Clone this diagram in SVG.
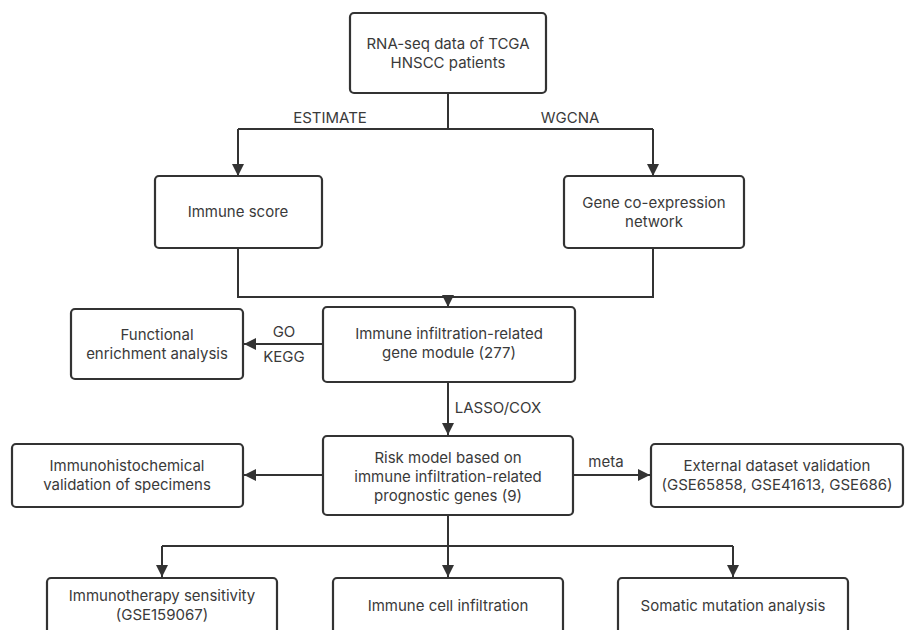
<svg xmlns="http://www.w3.org/2000/svg" width="905" height="630" viewBox="0 0 905 630">
<defs>
<marker id="ah" viewBox="0 0 10 10" refX="10" refY="5" markerWidth="12" markerHeight="12" markerUnits="userSpaceOnUse" orient="auto">
<path d="M0,0 L10,5 L0,10 z" fill="#333"/>
</marker>
<style>
.box{fill:#fff;stroke:#333;stroke-width:2.2}
.t{font-family:Inter,"Open Sans",sans-serif;font-size:15px;fill:#3a3a3a;text-anchor:middle}
.c{fill:none;stroke:#333;stroke-width:2}
.ca{fill:none;stroke:#333;stroke-width:2;marker-end:url(#ah)}
</style>
</defs>
<rect width="905" height="630" fill="#fff"/>
<g id="connectors">
<polyline class="c" points="448,93 448,129"/>
<polyline class="c" points="238,129 653,129"/>
<polyline class="ca" points="238,129 238,176"/>
<polyline class="ca" points="653,129 653,176"/>
<polyline class="c" points="238,248 238,297 653,297 653,248"/>
<polyline class="ca" points="448,297 448,307"/>
<polyline class="ca" points="323,344 244,344"/>
<polyline class="ca" points="448,382 448,435"/>
<polyline class="ca" points="323,475 244,475"/>
<polyline class="ca" points="573,475 650,475"/>
<polyline class="c" points="448,515 448,546"/>
<polyline class="c" points="162,546 733,546"/>
<polyline class="ca" points="162,546 162,577"/>
<polyline class="ca" points="448,546 448,577"/>
<polyline class="ca" points="733,546 733,577"/>
<text class="t" x="330" y="123">ESTIMATE</text>
<text class="t" x="570" y="123">WGCNA</text>
<text class="t" x="284" y="337">GO</text>
<text class="t" x="284" y="362">KEGG</text>
<text class="t" x="498" y="413" >LASSO/COX</text>
<text class="t" x="606" y="467">meta</text>
</g>
<g id="n1"><rect class="box" x="350" y="13" width="196" height="80" rx="4"/>
<text class="t" x="448" y="49">RNA-seq data of TCGA</text><text class="t" x="448" y="68">HNSCC patients</text></g>
<g id="n2"><rect class="box" x="155" y="176" width="167" height="72" rx="4"/>
<text class="t" x="238" y="217">Immune score</text></g>
<g id="n3"><rect class="box" x="564" y="176" width="180" height="72" rx="4"/>
<text class="t" x="654" y="208">Gene co-expression</text><text class="t" x="654" y="227">network</text></g>
<g id="n4"><rect class="box" x="323" y="307" width="252" height="75" rx="4"/>
<text class="t" x="449" y="339">Immune infiltration-related</text><text class="t" x="449" y="358">gene module (277)</text></g>
<g id="n5"><rect class="box" x="71" y="309" width="172" height="70" rx="4"/>
<text class="t" x="157" y="340">Functional</text><text class="t" x="157" y="359">enrichment analysis</text></g>
<g id="n6"><rect class="box" x="323" y="436" width="250" height="79" rx="4"/>
<text class="t" x="448" y="463">Risk model based on</text><text class="t" x="448" y="482">immune infiltration-related</text><text class="t" x="448" y="501">prognostic genes (9)</text></g>
<g id="n7"><rect class="box" x="12" y="444" width="231" height="63" rx="4"/>
<text class="t" x="127" y="471">Immunohistochemical</text><text class="t" x="127" y="490">validation of specimens</text></g>
<g id="n8"><rect class="box" x="651" y="444" width="252" height="63" rx="4"/>
<text class="t" x="777" y="471">External dataset validation</text><text class="t" x="777" y="490">(GSE65858, GSE41613, GSE686)</text></g>
<g id="n9"><rect class="box" x="47" y="578" width="230" height="80" rx="4"/>
<text class="t" x="162" y="601">Immunotherapy sensitivity</text><text class="t" x="162" y="620">(GSE159067)</text></g>
<g id="n10"><rect class="box" x="333" y="578" width="230" height="80" rx="4"/>
<text class="t" x="448" y="611">Immune cell infiltration</text></g>
<g id="n11"><rect class="box" x="618" y="578" width="230" height="80" rx="4"/>
<text class="t" x="733" y="611">Somatic mutation analysis</text></g>
</svg>
